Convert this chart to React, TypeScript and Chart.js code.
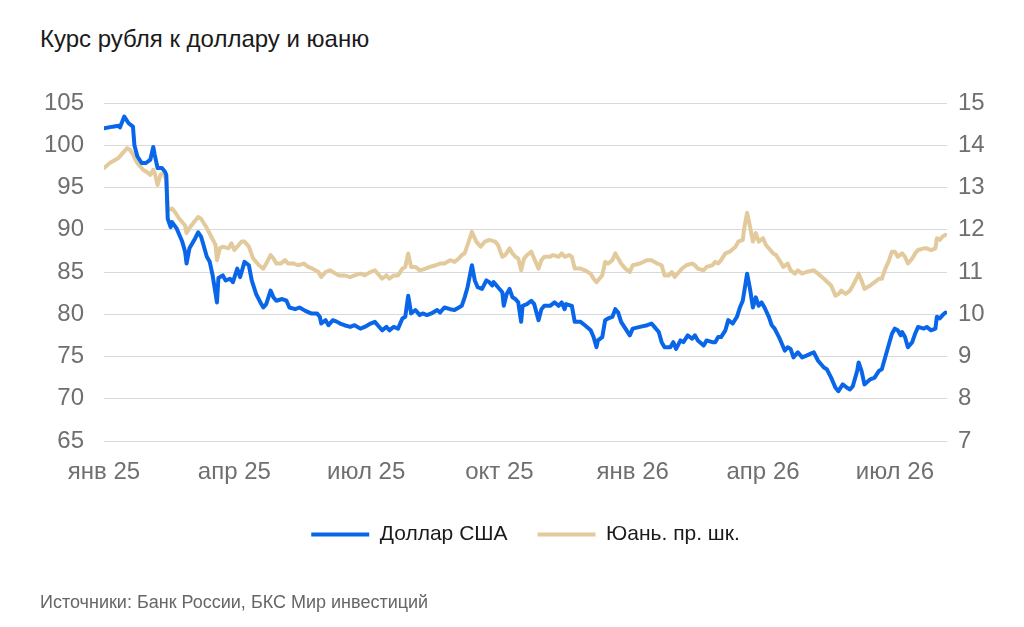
import React, { useEffect, useRef } from 'react';
import Chart from 'chart.js/auto';

// days counted from 1 Jan 2025
const usdDays = [
  0, 6, 10, 11, 14, 17, 20, 21, 23, 26, 29, 32, 34, 35, 37, 40, 42, 43, 44, 46, 47, 50, 54, 56, 57, 59,
  63, 65, 67, 71, 73, 75, 78, 79, 82, 84, 87, 89, 92, 94, 97, 100, 102, 105, 108, 110, 112, 115, 117,
  119, 123, 126, 128, 132, 135, 139, 143, 147, 149, 150, 153, 155, 158, 161, 163, 166, 170, 173, 177,
  180, 184, 187, 189, 192, 195, 197, 200, 203, 206, 208, 210, 211, 212, 215, 218, 220, 223, 226, 230,
  232, 235, 239, 242, 245, 247, 249, 251, 254, 256, 258, 261, 264, 266, 268, 269, 272, 275, 276, 278,
  280, 282, 284, 286, 288, 289, 292, 295, 297, 300, 302, 304, 308, 311, 314, 316, 318, 319, 323, 325,
  329, 332, 336, 338, 340, 341, 344, 346, 348, 351, 353, 355, 357, 360, 363, 365, 370, 375, 378, 380,
  383, 385, 387, 391, 393, 395, 398, 400, 403, 406, 408, 410, 414, 416, 420, 422, 424, 426, 429, 431,
  434, 437, 439, 441, 444, 446, 448, 450, 452, 454, 456, 459, 461, 463, 466, 468, 470, 472, 474, 476,
  479, 482, 485, 490, 493, 497, 499, 502, 505, 507, 510, 513, 515, 517, 520, 521, 523, 525, 529, 532,
  535, 537, 539, 542, 544, 546, 548, 550, 551, 553, 555, 558, 560, 562, 566, 568, 571, 574, 575, 577,
  579, 581,
];
const usdRates = [
  102.0, 102.2, 102.3, 102.1, 103.4, 102.6, 102.2, 100.0, 98.7, 97.9, 97.9, 98.3, 99.8, 98.9, 97.3, 97.3,
  96.9, 96.5, 91.3, 90.3, 90.9, 90.2, 88.6, 87.4, 86.0, 87.8, 89.0, 89.7, 89.2, 86.8, 86.2, 84.6, 81.4,
  84.3, 84.6, 84.0, 84.2, 83.8, 85.4, 84.4, 86.2, 85.8, 84.0, 82.4, 81.4, 80.8, 81.2, 82.8, 82.0, 81.6,
  81.8, 81.6, 80.8, 80.6, 80.8, 80.4, 80.1, 80.1, 79.7, 78.9, 79.3, 78.7, 79.3, 79.1, 78.9, 78.7, 78.5,
  78.7, 78.3, 78.5, 78.9, 79.1, 78.7, 78.1, 78.5, 78.1, 78.5, 78.3, 79.5, 79.7, 82.2, 81.2, 80.1, 80.5,
  79.9, 80.1, 79.9, 80.1, 80.5, 80.2, 80.8, 80.6, 80.5, 80.8, 81.0, 82.0, 83.2, 85.8, 84.0, 83.2, 83.0,
  84.0, 83.8, 83.4, 83.8, 83.2, 82.6, 81.0, 82.4, 83.0, 82.0, 81.8, 81.4, 79.1, 81.0, 81.2, 81.6, 81.2,
  79.3, 80.6, 81.0, 81.0, 81.4, 81.0, 81.4, 80.6, 81.2, 81.0, 79.1, 79.1, 78.7, 78.1, 77.3, 76.1, 76.9,
  77.3, 79.3, 79.5, 79.7, 80.6, 80.2, 79.1, 78.3, 77.5, 78.3, 78.5, 78.7, 78.9, 78.5, 77.9, 76.7, 76.1,
  76.1, 76.7, 75.9, 76.9, 76.7, 77.5, 77.1, 77.5, 76.9, 76.3, 76.9, 76.7, 76.7, 77.3, 77.3, 78.1, 79.3,
  78.9, 79.7, 80.8, 81.6, 84.8, 83.0, 80.8, 82.0, 81.0, 81.4, 80.8, 79.7, 78.7, 78.3, 77.3, 76.5, 75.7,
  76.1, 75.9, 74.9, 75.5, 74.9, 75.1, 75.5, 74.5, 73.7, 73.5, 72.5, 71.3, 70.9, 71.7, 71.3, 71.1, 71.5,
  73.3, 74.3, 73.3, 71.7, 72.3, 72.5, 73.3, 73.5, 74.7, 76.5, 77.7, 78.3, 78.1, 77.5, 77.9, 77.3, 76.1,
  76.7, 77.7, 78.5, 78.3, 78.5, 78.1, 78.3, 79.7, 79.5, 79.9, 80.2,
];

const cnyDays = [
  0, 4, 10, 13, 16, 18, 20, 23, 25, 27, 29, 32, 34, 35, 37, 39, 41, 43, 44, 47, 49, 52, 56, 57, 59, 63,
  65, 67, 71, 74, 77, 78, 80, 82, 86, 88, 90, 93, 95, 97, 100, 103, 107, 110, 112, 115, 117, 119, 122,
  125, 127, 131, 134, 138, 141, 144, 148, 150, 153, 156, 158, 162, 166, 170, 173, 177, 180, 184, 187,
  189, 192, 195, 197, 200, 203, 206, 208, 210, 211, 212, 215, 218, 222, 225, 229, 232, 235, 239, 242,
  245, 247, 249, 251, 254, 257, 260, 263, 266, 270, 272, 275, 277, 280, 282, 284, 286, 288, 290, 292,
  295, 297, 300, 302, 304, 308, 310, 314, 316, 318, 321, 323, 325, 329, 332, 336, 338, 340, 342, 344,
  346, 348, 351, 353, 355, 357, 360, 363, 365, 370, 375, 378, 382, 385, 387, 390, 392, 394, 397, 399,
  402, 406, 408, 410, 414, 416, 420, 422, 424, 426, 429, 432, 436, 438, 441, 442, 444, 446, 448, 450,
  452, 455, 457, 460, 462, 464, 467, 469, 472, 474, 477, 479, 482, 485, 490, 493, 497, 502, 505, 507,
  509, 512, 515, 517, 520, 521, 523, 525, 529, 532, 535, 537, 539, 542, 544, 546, 548, 551, 553, 555,
  558, 560, 562, 566, 568, 571, 574, 575, 577, 579, 581,
];
const cnyRates = [
  13.46, 13.58, 13.7, 13.82, 13.93, 13.89, 13.78, 13.58, 13.5, 13.42, 13.38, 13.3, 13.42, 13.34, 13.06,
  13.3, 13.34, 13.18, 12.46, 12.5, 12.42, 12.26, 12.1, 11.92, 12.04, 12.22, 12.3, 12.26, 12.04, 11.84,
  11.64, 11.28, 11.56, 11.6, 11.56, 11.68, 11.52, 11.64, 11.72, 11.72, 11.6, 11.32, 11.16, 11.08, 11.2,
  11.4, 11.32, 11.2, 11.2, 11.28, 11.2, 11.2, 11.16, 11.2, 11.12, 11.08, 11.0, 10.88, 11.0, 11.04, 11.0,
  10.92, 10.92, 10.88, 10.92, 10.96, 10.92, 11.0, 11.04, 10.96, 10.84, 10.92, 10.84, 10.92, 10.92,
  11.08, 11.12, 11.44, 11.28, 11.12, 11.12, 11.04, 11.08, 11.12, 11.16, 11.2, 11.2, 11.28, 11.24, 11.32,
  11.4, 11.44, 11.64, 11.95, 11.72, 11.6, 11.72, 11.76, 11.72, 11.64, 11.36, 11.4, 11.56, 11.44, 11.36,
  11.32, 11.04, 11.32, 11.4, 11.48, 11.32, 11.08, 11.28, 11.36, 11.36, 11.4, 11.36, 11.44, 11.36, 11.4,
  11.36, 11.08, 11.08, 11.04, 10.96, 10.84, 10.76, 10.84, 10.92, 11.24, 11.2, 11.28, 11.44, 11.32, 11.2,
  11.08, 11.0, 11.16, 11.2, 11.28, 11.28, 11.2, 11.16, 10.92, 10.92, 11.0, 10.88, 11.0, 11.08, 11.16,
  11.2, 11.16, 11.08, 11.04, 11.12, 11.16, 11.24, 11.2, 11.28, 11.44, 11.48, 11.6, 11.72, 11.76, 12.04,
  12.4, 12.08, 11.72, 11.92, 11.72, 11.8, 11.64, 11.52, 11.44, 11.4, 11.24, 11.12, 11.2, 11.04, 10.96,
  11.04, 10.96, 11.0, 11.04, 10.96, 10.84, 10.68, 10.44, 10.48, 10.56, 10.48, 10.56, 10.68, 10.88, 10.96,
  10.8, 10.6, 10.68, 10.76, 10.84, 10.84, 11.04, 11.28, 11.48, 11.48, 11.36, 11.44, 11.36, 11.2, 11.32,
  11.44, 11.52, 11.56, 11.56, 11.52, 11.56, 11.8, 11.76, 11.84, 11.88,
];

const tickDays = [0, 90, 181, 273, 365, 455, 546];
const tickLabels = ['янв 25', 'апр 25', 'июл 25', 'окт 25', 'янв 26', 'апр 26', 'июл 26'];

const FONT = 'Arial, "Liberation Sans", sans-serif';
const AXIS_COLOR = '#6f6f6f';

const App: React.FC = () => {
  const chartRef = useRef<HTMLCanvasElement>(null);

  useEffect(() => {
    const ctx = chartRef.current?.getContext('2d');
    if (!ctx) return;
    const chart = new Chart(ctx, {
      type: 'line',
      data: {
        datasets: [
          {
            label: 'Доллар США',
            data: usdDays.map((d, i) => ({ x: d, y: usdRates[i] })),
            yAxisID: 'y',
            borderColor: '#0a66e8',
            backgroundColor: '#0a66e8',
            borderWidth: 4,
            pointRadius: 0,
            tension: 0,
            borderJoinStyle: 'round',
            borderCapStyle: 'round',
          },
          {
            label: 'Юань. пр. шк.',
            data: cnyDays.map((d, i) => ({ x: d, y: cnyRates[i] })),
            yAxisID: 'y1',
            borderColor: '#e2ca9c',
            backgroundColor: '#e2ca9c',
            borderWidth: 4,
            pointRadius: 0,
            tension: 0,
            borderJoinStyle: 'round',
            borderCapStyle: 'round',
          },
        ],
      },
      options: {
        responsive: false,
        animation: false,
        layout: { padding: { top: 103, bottom: 72, left: 0, right: 0 } },
        scales: {
          x: {
            type: 'linear',
            min: 0,
            max: 582,
            grid: { display: false },
            border: { display: false },
            ticks: {
              autoSkip: false,
              maxRotation: 0,
              padding: 9,
              color: AXIS_COLOR,
              font: { family: FONT, size: 24 },
              callback: (value) => tickLabels[tickDays.indexOf(Number(value))] ?? '',
            },
            afterBuildTicks: (scale) => {
              scale.ticks = tickDays.map((v) => ({ value: v }));
            },
            afterFit: (scale) => {
              scale.height = 53;
            },
          },
          y: {
            position: 'left',
            min: 65,
            max: 105,
            ticks: { stepSize: 5, padding: 20, color: AXIS_COLOR, font: { family: FONT, size: 24 } },
            grid: { color: '#d9d9d9', drawTicks: false },
            border: { display: false },
            afterFit: (scale) => {
              scale.width = 104;
            },
          },
          y1: {
            position: 'right',
            min: 7,
            max: 15,
            ticks: { stepSize: 1, padding: 11, color: AXIS_COLOR, font: { family: FONT, size: 24 } },
            grid: { display: false, drawTicks: false },
            border: { display: false },
            afterFit: (scale) => {
              scale.width = 77;
            },
          },
        },
        plugins: {
          legend: {
            position: 'bottom',
            fullSize: false,
            labels: {
              usePointStyle: true,
              pointStyle: 'line',
              pointStyleWidth: 58,
              padding: 30,
              color: '#1a1a1a',
              font: { family: FONT, size: 21 },
            },
          },
          tooltip: { enabled: false },
        },
      },
    });

    return () => {
      chart.destroy();
    };
  }, []);

  return (
    <div style={{ position: 'absolute', left: 0, top: 0, width: 1024, height: 627, background: '#fff', fontFamily: FONT }}>
      <div style={{ position: 'absolute', left: 40, top: 26, fontSize: 24, lineHeight: '26px', color: '#1a1a1a' }}>
        Курс рубля к доллару и юаню
      </div>
      <canvas ref={chartRef} width={1024} height={627} style={{ position: 'absolute', left: 0, top: 0 }}></canvas>
      <div style={{ position: 'absolute', left: 40, top: 592, fontSize: 18, lineHeight: '21px', color: '#666' }}>
        Источники: Банк России, БКС Мир инвестиций
      </div>
    </div>
  );
};

export default App;
